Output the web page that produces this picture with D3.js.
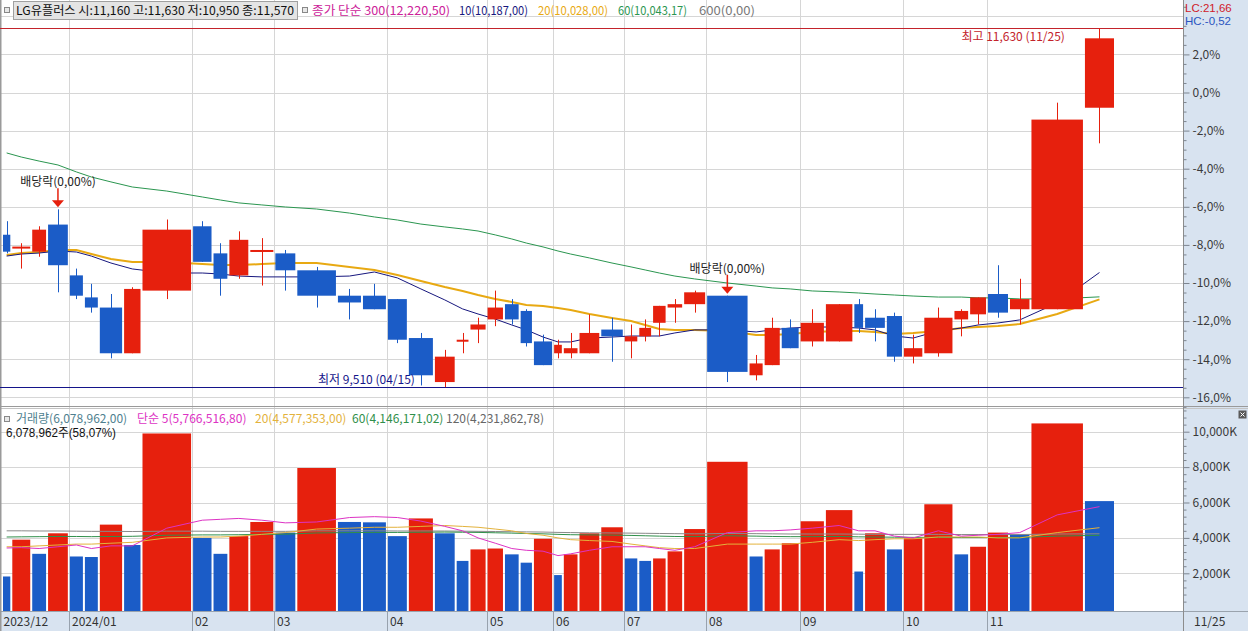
<!DOCTYPE html>
<html><head><meta charset="utf-8">
<script src="https://cdn.jsdelivr.net/npm/d3@7"></script>
<style>
body{margin:0;background:#fff;}
svg{display:block;font-family:"Noto Sans CJK KR","Noto Sans",sans-serif;font-size:12px;}
</style></head><body>
<svg id="c" width="1248" height="631"></svg>
<script>
// ---------------- data ----------------
const stockName = "LG유플러스";
const weeks = ["2023-12-04","2023-12-11","2023-12-18","2023-12-26","2024-01-02","2024-01-08","2024-01-15","2024-01-22","2024-01-29",
"2024-02-05","2024-02-13","2024-02-19","2024-02-26","2024-03-04","2024-03-11","2024-03-18","2024-03-25",
"2024-04-01","2024-04-08","2024-04-15","2024-04-22","2024-04-29","2024-05-07","2024-05-13","2024-05-20","2024-05-27",
"2024-06-03","2024-06-10","2024-06-17","2024-06-24","2024-07-01","2024-07-08","2024-07-15","2024-07-22","2024-07-29",
"2024-08-05","2024-08-12","2024-08-19","2024-08-26","2024-09-02","2024-09-09","2024-09-19","2024-09-23","2024-09-30",
"2024-10-07","2024-10-14","2024-10-21","2024-10-28","2024-11-04","2024-11-11","2024-11-18","2024-11-25"];
const open  = [10410,10330,10310,10470,10170,10040,9980,9710,10080,10460,10300,10170,10310,10300,10200,10050,10050,10030,9800,9540,9780,9850,9910,10000,9960,9780,9710,9710,9710,9850,9780,9810,9890,9980,10000,10050,9580,9640,9860,9780,9780,10000,9920,9930,9690,9710,9910,9940,10060,9970,9970,11160];
const high  = [10490,10360,10460,10560,10210,10120,10060,10100,10500,10490,10360,10430,10390,10320,10220,10090,10120,10030,9830,9730,9830,9920,10080,10030,9970,9820,9790,9830,9940,9920,9880,9910,9990,10030,10080,10050,9700,9920,9910,9970,10000,10030,9970,9950,9820,9980,9970,10040,10230,10150,11190,11630];
const low   = [10300,10210,10280,10070,10030,9950,9680,9710,10030,10250,10050,10150,10110,10080,9980,9910,9970,9770,9520,9510,9710,9770,9870,9880,9750,9640,9680,9680,9710,9660,9680,9780,9810,9890,9950,9540,9550,9640,9740,9750,9780,9830,9780,9660,9650,9690,9810,9880,9920,9880,9970,10950];
const close = [10310,10340,10440,10230,10050,9980,9710,10090,10440,10250,10150,10380,10320,10200,10050,10010,9970,9790,9580,9690,9790,9880,9980,9910,9770,9640,9760,9740,9830,9810,9810,9860,9990,10000,10070,9600,9650,9860,9740,9890,10000,9860,9860,9690,9740,9920,9960,10040,9950,10030,11090,11570];
// weekly volume, thousand shares
const volume = [1820,3900,3100,4260,2950,2920,4750,3600,9900,4000,3100,4100,4900,4300,7950,4900,4880,4100,5100,4260,2700,3350,3400,3070,2600,3950,1900,3070,4260,4600,2840,2700,2840,3240,4500,8300,2950,3350,3700,4940,5570,2100,4260,3350,3980,5900,3070,3500,4300,4200,10468,6078.962];
// price moving averages (won)
const ma10 = [10284,10296,10302,10314,10308,10284,10243,10208,10184,10184,10178,10166,10161,10161,10161,10166,10190,10155,10090,10025,9972,9942,9912,9877,9848,9806,9777,9777,9800,9806,9812,9812,9812,9830,9848,9848,9836,9848,9859,9865,9865,9859,9848,9812,9800,9842,9859,9877,9889,9907,10007,10187];
const ma20 = [10290,10302,10308,10320,10320,10296,10267,10249,10249,10237,10231,10231,10237,10243,10243,10220,10202,10172,10137,10101,10078,10054,10031,10013,9995,9989,9977,9966,9942,9918,9901,9877,9853,9848,9848,9842,9818,9818,9824,9836,9842,9842,9836,9824,9830,9842,9859,9865,9871,9883,9942,10028];
const ma60 = [10893,10869,10845,10822,10781,10751,10722,10692,10668,10633,10615,10598,10586,10574,10562,10538,10515,10497,10473,10456,10444,10432,10409,10385,10361,10338,10314,10296,10273,10243,10220,10202,10184,10166,10149,10125,10107,10096,10090,10078,10072,10066,10060,10054,10048,10042,10042,10037,10037,10031,10031,10043.17];
const ma300Last = 12220.50;
const ma600Last = 0;
// volume moving averages (thousand shares)
const volMa5  = [3430,3450,3400,3500,3600,3400,3550,3550,4550,5000,5050,5100,5000,4850,4900,5150,5200,5150,4950,4650,4400,4000,3700,3400,3300,3250,3000,3100,3300,3500,3500,3500,3400,3300,3500,4300,4400,4400,4450,4550,4700,4400,4400,4100,4000,4400,4100,4150,4200,4300,5300,5766.5168];
const volMa20 = [3500,3500,3550,3600,3650,3650,3700,3750,4000,4050,4050,4100,4200,4300,4500,4550,4600,4600,4650,4700,4650,4600,4500,4400,4250,4150,4000,3900,3850,3800,3650,3550,3450,3400,3400,3650,3650,3650,3650,3750,3900,3850,3900,3950,3950,4050,4050,4050,4000,4000,4300,4577.353];
const volMa60 = [4050,4060,4070,4080,4080,4070,4080,4090,4150,4170,4170,4180,4200,4210,4280,4300,4310,4310,4320,4330,4320,4310,4290,4270,4250,4230,4200,4180,4170,4160,4140,4120,4100,4080,4070,4120,4100,4080,4070,4070,4080,4060,4050,4040,4030,4030,4020,4020,4020,4030,4100,4146.17102];
const volMa120= [4400,4400,4390,4390,4380,4370,4370,4360,4380,4380,4370,4370,4370,4370,4400,4400,4400,4390,4390,4390,4380,4370,4360,4350,4340,4330,4310,4300,4290,4280,4270,4260,4250,4240,4230,4250,4240,4230,4220,4220,4220,4210,4200,4200,4200,4200,4190,4190,4190,4190,4220,4231.86278];
const exDivIdx = [3, 35];
const pctBase = 11250;
const pctTicks = [2,0,-2,-4,-6,-8,-10,-12,-14,-16];
const pctGrid = [4,2,0,-2,-4,-6,-8,-10,-12,-14,-16];
const volTicks = [2000,4000,6000,8000,10000];
const monthLabels = ["2023/12","2024/01","02","03","04","05","06","07","08","09","10","11"];

// ---------------- helpers ----------------
const UP = "#e6200d", DN = "#1b5cc7";
const C_MA10 = "#17177e", C_MA20 = "#e8a912", C_MA60 = "#2b9650", C_MA300 = "#cc2299", C_GRAY = "#777";
const C_VMA5 = "#dd33c4", C_VMA20 = "#e3b23c", C_VMA60 = "#2f8f4a", C_VMA120 = "#8a8a8a", C_VOL = "#4f7f8f";
const kr = (v, d) => d3.format(",." + d + "f")(v).replace(/\.(\d+)$/, ",$1").replace("−", "-");
const n = weeks.length;
const svg = d3.select("#c");
const W = 1248, H = 631, plotR = 1183, priceBot = 405, volTop = 409, volBot = 611;

const starts = volume.map((v, i) => d3.sum(volume.slice(0, i)));
const x = d3.scaleLinear().domain([0, d3.sum(volume)]).range([3, 1116]);
const left = i => x(starts[i]);
const right = i => x(starts[i] + volume[i]) - 2;
const cx = i => (left(i) + right(i)) / 2;

const yPct = d3.scaleLinear().domain([0, -16]).range([92.5, 397.3]);
const y = p => yPct((p / pctBase - 1) * 100);
const yV = d3.scaleLinear().domain([0, 10000]).range([608.7, 431.7]);

// month starts
const monthStart = [];
weeks.forEach((w, i) => { if (i === 0 || w.slice(0, 7) !== weeks[i - 1].slice(0, 7)) monthStart.push(i); });

// ---------------- backgrounds ----------------
svg.append("rect").attr("width", W).attr("height", H).attr("fill", "#fff");
svg.append("rect").attr("x", plotR).attr("y", 0).attr("width", W - plotR).attr("height", H).attr("fill", "#d8e3f0");
svg.append("rect").attr("x", 0).attr("y", volBot).attr("width", W).attr("height", H - volBot).attr("fill", "#d8e3f0");

const grid = svg.append("g").attr("stroke", "#d6d6d6").attr("stroke-width", 1);
pctGrid.forEach(p => grid.append("line").attr("x1", 0).attr("x2", plotR).attr("y1", Math.round(yPct(p)) + 0.5).attr("y2", Math.round(yPct(p)) + 0.5));
volTicks.forEach(v => grid.append("line").attr("x1", 0).attr("x2", plotR).attr("y1", Math.round(yV(v)) + 0.5).attr("y2", Math.round(yV(v)) + 0.5));
monthStart.slice(1).forEach(i => grid.append("line").attr("x1", Math.round(left(i)) - 0.5).attr("x2", Math.round(left(i)) - 0.5).attr("y1", 0).attr("y2", volBot));

// panel separators
svg.append("line").attr("x1", 0).attr("x2", W).attr("y1", 406.5).attr("y2", 406.5).attr("stroke", "#9a9a9a");
svg.append("line").attr("x1", 0).attr("x2", W).attr("y1", 408.5).attr("y2", 408.5).attr("stroke", "#c4c4c4");
svg.append("line").attr("x1", 0).attr("x2", W).attr("y1", volBot + 0.5).attr("y2", volBot + 0.5).attr("stroke", "#9aa3ad");
svg.append("line").attr("x1", plotR + 0.5).attr("x2", plotR + 0.5).attr("y1", 0).attr("y2", H).attr("stroke", "#8c8c8c");
svg.append("line").attr("x1", 0.5).attr("x2", 0.5).attr("y1", 0).attr("y2", H).attr("stroke", "#9a9a9a").attr("stroke-width", 2);

// ---------------- price panel ----------------
svg.append("clipPath").attr("id", "pc").append("rect").attr("x", 0).attr("y", 0).attr("width", plotR).attr("height", priceBot);
const pg = svg.append("g").attr("clip-path", "url(#pc)");

const maxHi = d3.max(high), minLo = d3.min(low);
const iHi = high.indexOf(maxHi), iLo = low.lastIndexOf(minLo);
pg.append("line").attr("x1", 0).attr("x2", plotR).attr("y1", Math.round(y(maxHi)) + 0.5).attr("y2", Math.round(y(maxHi)) + 0.5).attr("stroke", "#c3232b");
pg.append("line").attr("x1", 0).attr("x2", plotR).attr("y1", Math.round(y(minLo)) + 0.5).attr("y2", Math.round(y(minLo)) + 0.5).attr("stroke", "#14148a");

const line = arr => d3.line().x((d, i) => cx(i)).y(d => y(d))(arr);
pg.append("path").attr("d", line(ma60)).attr("fill", "none").attr("stroke", C_MA60).attr("stroke-width", 1);
pg.append("path").attr("d", line(ma20)).attr("fill", "none").attr("stroke", C_MA20).attr("stroke-width", 2);
pg.append("path").attr("d", line(ma10)).attr("fill", "none").attr("stroke", C_MA10).attr("stroke-width", 1);

const cg = pg.append("g");
d3.range(n).forEach(i => {
  const col = close[i] >= open[i] ? UP : DN;
  const xc = Math.round(cx(i)) + 0.5;
  cg.append("line").attr("x1", xc).attr("x2", xc).attr("y1", y(high[i])).attr("y2", y(low[i])).attr("stroke", col);
  const t = y(Math.max(open[i], close[i])), b = y(Math.min(open[i], close[i]));
  cg.append("rect").attr("x", left(i)).attr("width", right(i) - left(i)).attr("y", t).attr("height", Math.max(2, b - t)).attr("fill", col);
});

// ex-dividend markers
exDivIdx.forEach(i => {
  const tip = y(high[i]) - 2, xc = cx(i);
  pg.append("text").attr("x", xc).attr("y", tip - 21).attr("text-anchor", "middle").attr("fill", "#222").text("배당락(0,00%)");
  pg.append("line").attr("x1", xc).attr("x2", xc).attr("y1", tip - 19).attr("y2", tip - 6).attr("stroke", "#e6200d").attr("stroke-width", 1.5);
  pg.append("path").attr("d", `M${xc - 6},${tip - 7}L${xc + 6},${tip - 7}L${xc},${tip}Z`).attr("fill", "#e6200d");
});

const md = s => s.slice(5, 7) + "/" + s.slice(8, 10);
pg.append("text").attr("x", left(iHi) - 20).attr("y", Math.round(y(maxHi)) + 13).attr("text-anchor", "end").attr("fill", "#c3232b").text(`최고 ${d3.format(",")(maxHi)} (${md(weeks[iHi])})`);
pg.append("text").attr("x", left(iLo) - 20).attr("y", Math.round(y(minLo)) - 3).attr("text-anchor", "end").attr("fill", "#14148a").text(`최저 ${d3.format(",")(minLo)} (${md(weeks[iLo])})`);

// price axis
const fmtPct = v => (v < 0 ? "-" : "") + Math.abs(v).toFixed(1).replace(".", ",") + "%";
const ax1 = svg.append("g").attr("transform", `translate(${plotR + 0.5},0)`)
  .call(d3.axisRight(yPct).tickValues(pctTicks).tickSize(6).tickPadding(3).tickFormat(fmtPct));
const minorPct = d3.range(-16.5, 4.6, 0.5).filter(v => Math.abs(v % 2) > 0.01);
const ax1m = svg.append("g").attr("transform", `translate(${plotR + 0.5},0)`)
  .call(d3.axisRight(yPct).tickValues(minorPct).tickSize(3).tickFormat(""));
[ax1, ax1m].forEach(a => { a.select(".domain").remove(); a.selectAll("line").attr("stroke", "#7d8590"); a.selectAll("text").attr("fill", "#3a3a3a").attr("font-size", 12).attr("font-family", "Noto Sans CJK KR"); });

// ---------------- volume panel ----------------
d3.range(n).forEach(i => {
  const col = i > 0 && volume[i] > volume[i - 1] ? UP : DN;
  svg.append("rect").attr("x", left(i)).attr("width", right(i) - left(i)).attr("y", yV(volume[i])).attr("height", volBot - yV(volume[i])).attr("fill", col);
});
const vline = arr => d3.line().x((d, i) => cx(i)).y(d => yV(d))(arr);
[[volMa120, C_VMA120], [volMa60, C_VMA60], [volMa20, C_VMA20], [volMa5, C_VMA5]].forEach(([a, c]) =>
  svg.append("path").attr("d", vline(a)).attr("fill", "none").attr("stroke", c).attr("stroke-width", 1));

const ax2 = svg.append("g").attr("transform", `translate(${plotR + 0.5},0)`)
  .call(d3.axisRight(yV).tickValues(volTicks).tickSize(6).tickPadding(3).tickFormat(v => d3.format(",")(v) + "K"));
const ax2m = svg.append("g").attr("transform", `translate(${plotR + 0.5},0)`)
  .call(d3.axisRight(yV).tickValues(d3.range(400, 11300, 400).filter(v => v % 2000 !== 0)).tickSize(3).tickFormat(""));
[ax2, ax2m].forEach(a => { a.select(".domain").remove(); a.selectAll("line").attr("stroke", "#7d8590"); a.selectAll("text").attr("fill", "#3a3a3a").attr("font-size", 12).attr("font-family", "Noto Sans CJK KR"); });

// close buttons
svg.append("rect").attr("x", 1238.5).attr("y", 410.5).attr("width", 8).attr("height", 8).attr("fill", "#5a5a5a");
svg.append("path").attr("d", "M1240.5,412.5L1244.5,416.5M1244.5,412.5L1240.5,416.5").attr("stroke", "#fff");

// ---------------- x axis strip ----------------
monthStart.forEach((i, k) => {
  const xs = k === 0 ? 1 : Math.round(left(i)) - 0.5;
  if (k > 0) svg.append("line").attr("x1", xs).attr("x2", xs).attr("y1", volBot).attr("y2", H).attr("stroke", "#98a2ae");
  svg.append("text").attr("x", xs + 2.5).attr("y", 625.5).attr("fill", "#333").text(monthLabels[k]);
});
svg.append("text").attr("x", 1194).attr("y", 625.5).attr("fill", "#333").text(md(weeks[n - 1]));

// ---------------- legends ----------------
const last = n - 1;
svg.append("rect").attr("x", 4.5).attr("y", 7.5).attr("width", 5).attr("height", 5).attr("fill", "#e8e8e8").attr("stroke", "#888");
svg.append("rect").attr("x", 13.5).attr("y", 1.5).attr("width", 284).attr("height", 18).attr("fill", "#e4e4e4").attr("stroke", "#a0a0a0");
svg.append("text").attr("x", 16).attr("y", 15).attr("fill", "#111").attr("textLength", 278).attr("lengthAdjust", "spacingAndGlyphs")
  .text(`${stockName} 시:${d3.format(",")(open[last])} 고:${d3.format(",")(high[last])} 저:${d3.format(",")(low[last])} 종:${d3.format(",")(close[last])}`);
svg.append("rect").attr("x", 302.5).attr("y", 7.5).attr("width", 5).attr("height", 5).attr("fill", "#e8e8e8").attr("stroke", "#888");
const leg = [[312, 138, C_MA300, `종가 단순 300(${kr(ma300Last, 2)})`], [459, 69, C_MA10, `10(${kr(ma10[last], 2)})`], [538, 70, C_MA20, `20(${kr(ma20[last], 2)})`], [618, 69, C_MA60, `60(${kr(ma60[last], 2)})`], [699, 56, C_GRAY, `600(${kr(ma600Last, 2)})`]];
leg.forEach(([lx, w, c, t]) => svg.append("text").attr("x", lx).attr("y", 15).attr("fill", c).attr("textLength", w).attr("lengthAdjust", "spacingAndGlyphs").text(t));

const lc = (close[last] / minLo - 1) * 100, hc = (close[last] / maxHi - 1) * 100;
svg.append("text").attr("x", 1185).attr("y", 12).attr("font-size", 11.5).attr("font-family", "Liberation Sans, sans-serif").attr("fill", "#d0202a").text("LC:" + kr(lc, 2));
svg.append("text").attr("x", 1185).attr("y", 25).attr("font-size", 11.5).attr("font-family", "Liberation Sans, sans-serif").attr("fill", "#2a55c0").text("HC:" + kr(hc, 2));

svg.append("rect").attr("x", 4.5).attr("y", 416.5).attr("width", 5).attr("height", 5).attr("fill", "#e8e8e8").attr("stroke", "#888");
const vleg = [[16, C_VOL, `거래량(${kr(volume[last] * 1000, 2)})`], [137, C_VMA5, `단순 5(${kr(volMa5[last] * 1000, 2)})`], [255, C_VMA20, `20(${kr(volMa20[last] * 1000, 2)})`], [352, C_VMA60, `60(${kr(volMa60[last] * 1000, 2)})`], [446, "#666", `120(${kr(volMa120[last] * 1000, 2)})`]];
vleg.forEach(([lx, c, t]) => svg.append("text").attr("x", lx).attr("y", 422.5).attr("fill", c).text(t));
svg.append("text").attr("x", 6).attr("y", 437).attr("font-family", "Liberation Sans, Noto Sans CJK KR, sans-serif").attr("fill", "#111")
  .attr("textLength", 110).attr("lengthAdjust", "spacingAndGlyphs")
  .text(`${d3.format(",")(Math.round(volume[last] * 1000))}주(${kr(volume[last] / volume[last - 1] * 100, 2)}%)`);
</script>
</body></html>
